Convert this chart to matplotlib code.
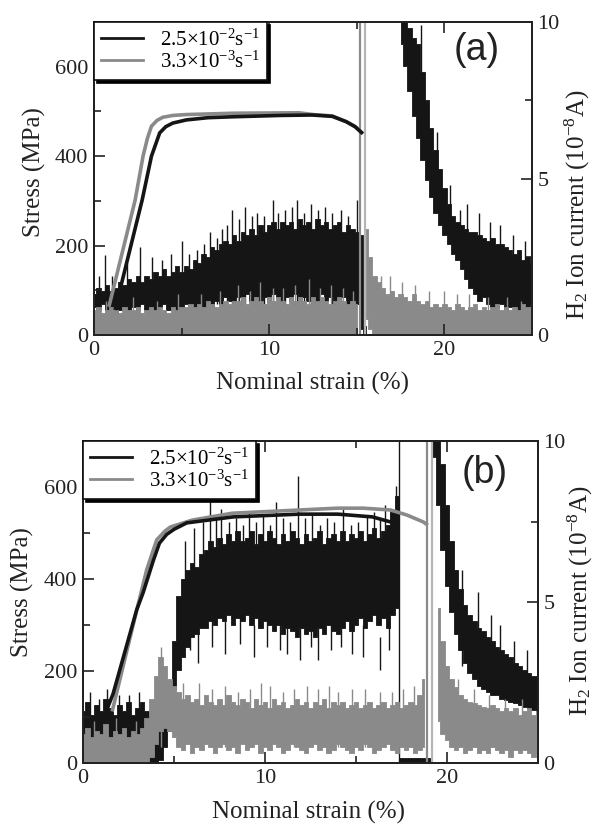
import numpy as np
import matplotlib
matplotlib.use('Agg')
import matplotlib.pyplot as plt
from matplotlib.lines import Line2D
from matplotlib.ticker import MultipleLocator

plt.rcParams['font.family'] = ['Liberation Serif', 'DejaVu Serif']
plt.rcParams['mathtext.fontset'] = 'custom'
plt.rcParams['mathtext.rm'] = 'Liberation Serif'
plt.rcParams['mathtext.it'] = 'Liberation Serif:italic'

# ---------------- data ----------------
legend_labels = [r'2.5$\times$10$^{-2}$s$^{-1}$', r'3.3$\times$10$^{-3}$s$^{-1}$']
stress_ticks = [0, 200, 400, 600]
ion_ticks = [0, 5, 10]
strain_ticks = [0, 10, 20]

# sampled strain positions of the ion-current envelopes (0..25 %, every 0.25 %)
strain_grid = np.linspace(0, 25, 101)
nan = np.nan

# ---- panel (a) stress-strain ----
a_stress_fast_x = [1.2, 2.75, 3.28, 3.75, 4.1, 4.5, 5.27, 6.5, 7.9, 10.6, 12.45, 13.6, 14.4, 14.9, 15.35]
a_stress_fast_y = [56, 302, 400, 452, 466, 474, 481, 486, 488, 491, 492, 489, 477, 466, 450]
a_stress_slow_x = [0.85, 2.35, 2.8, 3.05, 3.28, 3.6, 3.93, 4.5, 5.27, 8.0, 11.7, 12.5, 13.6, 14.4, 14.9, 15.3]
a_stress_slow_y = [63, 302, 400, 440, 467, 480, 487, 491, 493, 496, 497, 493, 490, 477, 466, 452]

# ---- panel (a) ion current envelopes (10^-8 A) ----
a_ion_fast_hi = [1.3, 1.5, 1.4, 1.6, 1.4, 1.5, 1.7, 1.6, 1.8, 1.7, 1.9, 1.7, 1.9, 1.8, 2.0, 1.9, 2.1, 1.9, 2.0, 2.2,
                 2.0, 2.2, 2.1, 2.4, 2.3, 2.6, 2.5, 2.8, 2.7, 2.9, 3.0, 2.9, 3.2, 3.0, 3.3, 3.2, 3.4, 3.2, 3.5, 3.3,
                 3.5, 3.6, 3.4, 3.6, 3.5, 3.6, 3.4, 3.7, 3.5, 3.6, 3.4, 3.7, 3.5, 3.6, 3.4, 3.5, 3.6, 3.3, 3.5, 3.4,
                 3.3, 3.2, 0.3, nan, nan, nan, nan, nan, nan, nan, 11, 11, 9.8, 9.5, 9.3, 8.4, 7.5, 6.6, 5.9, 5.3,
                 4.7, 4.2, 3.8, 3.6, 3.5, 3.4, 3.3, 3.3, 3.2, 3.1, 3.0, 3.1, 2.9, 2.9, 2.8, 2.7, 2.6, 2.7, 2.4, 2.5, 2.3]
a_ion_fast_lo = [0.9, 0.8, 1.0, 0.8, 0.9, 0.7, 0.8, 0.9, 0.8, 0.9, 0.8, 1.0, 0.8, 0.9, 0.8, 0.9, 1.0, 0.8, 0.9, 0.8,
                 0.9, 1.0, 0.9, 0.8, 1.0, 0.9, 1.0, 0.9, 1.1, 1.0, 1.2, 1.1, 1.0, 1.2, 1.1, 1.3, 1.1, 1.2, 1.0, 1.2,
                 1.1, 1.3, 1.2, 1.0, 1.2, 1.1, 1.3, 1.0, 1.2, 1.1, 1.2, 1.0, 1.3, 1.1, 1.2, 1.0, 1.1, 1.2, 1.0, 1.1,
                 1.0, 0.2, 0.0, nan, nan, nan, nan, nan, nan, nan, 9.3, 8.6, 7.8, 7.0, 6.3, 5.6, 4.95, 4.4, 3.9, 3.5,
                 3.2, 2.9, 2.6, 2.4, 2.1, 1.8, 1.5, 1.3, 1.1, 1.2, 1.0, 0.9, 0.9, 1.0, 0.8, 0.9, 0.9, 0.8, 0.8, 0.9, 1.0]
a_ion_slow_hi = [0.8, 0.9, 0.7, 0.8, 0.9, 0.8, 0.7, 0.9, 0.8, 0.8, 0.9, 0.7, 0.8, 0.9, 0.8, 0.9, 0.8, 0.7, 0.9, 0.8,
                 0.9, 0.9, 1.0, 0.9, 1.0, 0.9, 1.1, 1.0, 0.9, 1.0, 1.1, 1.0, 1.1, 1.1, 1.2, 1.0, 1.1, 1.2, 1.1, 1.0,
                 1.2, 1.1, 1.2, 1.1, 1.0, 1.2, 1.1, 1.2, 1.1, 1.0, 1.2, 1.1, 1.2, 1.1, 1.0, 1.1, 1.2, 1.1, 1.0, 1.1,
                 1.0, nan, 3.4, 2.5, 1.9, 1.7, 1.5, 1.3, 1.4, 1.2, 1.3, 1.2, 1.1, 1.3, 1.1, 1.0, 1.1, 0.9, 1.0, 0.9,
                 1.0, 0.9, 0.8, 1.0, 0.9, 0.8, 0.9, 1.0, 0.8, 0.9, 0.8, 0.9, 1.0, 0.8, 0.9, 0.8, 0.9, 0.8, 1.0, 0.9, 0.8]
a_ion_slow_lo = [0.0] * 61 + [nan, 0.5, 0.2] + [0.0] * 37

a_fast_spike_x = [0.3, 0.63, 1.0, 1.9, 2.6, 3.3, 3.9, 4.4, 5.0, 5.4, 5.9, 6.3, 6.6, 7.0, 7.3, 7.6, 7.9, 8.3,
                  8.6, 9.0, 9.3, 9.7, 10.2, 10.5, 10.9, 11.3, 11.6, 12.0, 12.4, 12.8, 13.2, 13.6, 14.1, 14.5,
                  15.0, 18.65, 19.6, 20.3, 20.9, 21.3, 22.0, 22.6, 23.2, 23.9, 24.6]
a_fast_spike_hi = [1.9, 2.56, 1.9, 2.3, 2.8, 2.5, 2.4, 2.6, 3.0, 2.6, 2.7, 2.9, 3.3, 3.1, 3.4, 3.5, 4.0, 3.7,
                   4.1, 3.8, 3.9, 3.8, 4.3, 3.9, 4.0, 4.1, 4.3, 3.9, 4.2, 4.0, 4.1, 3.9, 4.0, 3.8,
                   4.3, 9.9, 6.5, 4.8, 4.0, 4.2, 3.9, 3.6, 3.5, 3.2, 3.0]
a_fast_spike_lo = [1.0] * 35 + [8.0, 5.0, 3.5, 2.5, 2.5, 2.0, 2.0, 2.0, 2.0, 2.0]
a_slow_spike_x = [0.7, 2.2, 3.6, 4.8, 6.1, 7.2, 8.2, 8.9, 9.5, 10.2, 10.8, 11.5, 12.3, 12.9, 13.5, 14.2, 14.8,
                  16.4, 16.9, 17.6, 18.3, 19.1, 20.0, 20.7, 21.4, 22.5, 23.6, 24.4]
a_slow_spike_hi = [1.1, 1.2, 1.1, 1.3, 1.3, 1.4, 1.6, 1.4, 1.7, 1.5, 1.5, 1.6, 1.8, 1.5, 1.6, 1.5, 1.4,
                   1.9, 1.9, 1.7, 1.6, 1.4, 1.4, 1.3, 1.3, 1.2, 1.2, 1.1]
a_full_lines_x = [15.2, 15.45]   # off-scale ion-current bursts at fracture

# ---- panel (b) stress-strain ----
b_stress_fast_x = [0.95, 1.65, 2.95, 3.3, 3.87, 4.2, 4.6, 5.0, 5.7, 8.25, 11.9, 14.0, 15.9, 16.9, 17.3]
b_stress_fast_y = [80, 150, 333, 370, 441, 478, 497, 508, 522, 535, 541, 541, 535, 524, 517]
b_stress_slow_x = [1.6, 3.0, 3.5, 4.05, 4.5, 4.8, 6.0, 8.2, 11.9, 14.0, 15.4, 16.9, 17.8, 18.7, 18.95]
b_stress_slow_y = [112, 340, 420, 485, 504, 513, 528, 543, 550, 554, 554, 550, 539, 524, 517]

# ---- panel (b) ion current envelopes ----
b_ion_fast_hi = [1.6, 1.9, 1.5, 1.8, 1.6, 2.0, 1.7, 1.5, 1.8, 1.6, 1.9, 1.5, 1.7, 1.9, 1.6, 0.9, 0.8, 1.3, 1.7, 2.4,
                 3.8, 5.2, 5.7, 6.0, 6.2, 6.1, 6.5, 6.6, 6.9, 6.7, 7.0, 6.8, 7.1, 6.9, 7.2, 6.9, 7.0, 7.2, 6.8, 7.1,
                 6.9, 7.2, 7.0, 6.8, 7.1, 6.9, 7.2, 7.0, 6.8, 7.1, 6.9, 7.0, 7.2, 6.8, 7.0, 7.1, 6.9, 7.2, 6.9, 7.1,
                 7.0, 7.2, 6.9, 7.1, 7.3, 7.0, 7.2, 7.4, 7.8, 8.3, 0.15, 0.15, 0.15, 0.15, 0.15, 0.15, 0.15, 11, 10.5, 9.3,
                 8.0, 6.9, 6.0, 5.4, 4.9, 4.6, 4.4, 4.2, 4.1, 3.9, 3.8, 3.6, 3.5, 3.4, 3.3, 3.1, 3.0, 2.9, 2.8, 2.7, 2.7]
b_ion_fast_lo = [0.7, 0.6, 0.8, 0.7, 0.6, 0.8, 0.7, 0.6, 0.7, 0.8, 0.6, 0.7, 0.8, 0.6, 0.5, 0.0, 0.0, 0.1, 0.5, 1.0,
                 2.3, 2.9, 3.3, 3.6, 3.9, 4.0, 4.2, 4.2, 4.4, 4.3, 4.5, 4.4, 4.6, 4.3, 4.5, 4.4, 4.6, 4.3, 4.5, 4.2,
                 4.4, 4.3, 4.1, 4.3, 4.0, 4.2, 4.1, 3.9, 4.2, 4.0, 4.1, 3.9, 4.2, 4.0, 4.3, 4.1, 4.0, 4.2, 4.4, 4.1,
                 4.3, 4.5, 4.2, 4.4, 4.6, 4.3, 4.5, 4.2, 4.6, 4.8, 0.0, 0.0, 0.0, 0.0, 0.0, 0.0, 0.0, 9.5, 8.0, 6.6,
                 5.5, 4.7, 4.0, 3.5, 3.1, 2.8, 2.6, 2.4, 2.3, 2.2, 2.1, 2.1, 2.0, 1.95, 1.9, 1.85, 1.8, 1.75, 1.7, 1.65, 1.6]
b_ion_slow_hi = [0.9, 1.1, 0.8, 1.0, 0.9, 1.2, 0.8, 1.0, 0.9, 1.1, 0.8, 1.0, 0.9, 1.1, 1.4, 2.0, 2.7, 3.3, 3.0, 2.6,
                 2.4, 2.2, 2.0, 2.1, 1.9, 2.0, 1.8, 2.1, 1.9, 1.8, 2.0, 1.8, 2.1, 1.9, 1.8, 2.0, 1.9, 1.7, 2.0, 1.8,
                 1.9, 1.7, 2.0, 1.8, 1.9, 1.7, 1.8, 2.0, 1.8, 1.9, 1.7, 1.9, 1.8, 2.0, 1.7, 1.9, 1.8, 1.9, 1.7, 1.8,
                 1.9, 1.7, 1.8, 1.9, 1.7, 1.8, 1.9, 1.7, 1.8, 1.9, 1.7, 1.8, 1.9, 1.8, 2.1, 2.6, nan, nan, 4.8, 3.8,
                 3.0, 2.6, 2.35, 2.1, 2.0, 1.9, 1.85, 1.8, 1.75, 1.7, 1.8, 1.7, 1.6, 1.7, 1.6, 1.7, 1.5, 1.6, 1.7, 1.5, 1.6]
b_ion_slow_lo = [0.0] * 15 + [0.2, 0.6, 1.0, 1.1, 1.0, 0.8] + \
                [0.5, 0.4, 0.6, 0.3, 0.5, 0.4, 0.6, 0.5, 0.3, 0.5, 0.6, 0.4, 0.5, 0.3, 0.6, 0.4, 0.5, 0.6, 0.3,
                 0.5, 0.4, 0.6, 0.5, 0.3, 0.4, 0.6, 0.5, 0.4, 0.3, 0.5, 0.6, 0.4, 0.5, 0.3, 0.4, 0.6, 0.5, 0.4,
                 0.3, 0.5, 0.4, 0.6, 0.5, 0.3, 0.4, 0.5, 0.6, 0.4, 0.3, 0.5, 0.4, 0.5, 0.3, 0.4, 0.5] + \
                [nan, nan, 1.3, 0.9, 0.7] + \
                [0.5, 0.4, 0.5, 0.3, 0.4, 0.5, 0.3, 0.4, 0.3, 0.5, 0.4, 0.3, 0.4, 0.2, 0.4, 0.3, 0.4, 0.3, 0.2, 0.3]

b_fast_spike_x = [0.4, 0.9, 1.3, 2.0, 2.5, 3.1,
                  5.6, 6.1, 6.6, 7.0, 7.3, 7.6, 8.0, 8.4, 8.8, 9.1, 9.5, 9.9, 10.3, 10.6, 11.0, 11.4, 11.8,
                  12.2, 12.6, 13.0, 13.4, 13.8, 14.3, 14.7, 15.1, 15.6, 16.0, 16.3, 16.6, 16.9, 17.2,
                  20.8, 21.7, 22.4, 22.9, 23.7, 24.4]
b_fast_spike_hi = [2.2, 2.0, 2.3, 2.1, 2.1, 2.2,
                   6.9, 7.3, 7.5, 8.9, 7.6, 7.9, 7.5, 7.6, 7.4, 7.8, 7.5, 7.7, 7.4, 8.1, 7.6, 7.5, 8.9,
                   7.6, 7.7, 7.4, 7.6, 7.5, 7.9, 7.4, 7.5, 7.7, 7.8, 7.6, 8.0, 7.9, 8.6,
                   6.0, 5.3, 4.6, 4.3, 3.8, 3.5]
b_fast_spike_lo = [1.0] * 6 + [5.0] * 31 + [3.0, 2.8, 2.5, 2.3, 2.1, 2.0]
b_fast_dip_x = [5.9, 6.3, 7.1, 7.8, 8.6, 9.4, 10.1, 10.8, 11.2, 11.9, 12.5, 12.9, 13.6, 14.2, 14.8, 15.4, 16.3, 16.8]
b_fast_dip_lo = [3.5, 3.1, 3.6, 3.4, 3.7, 3.3, 3.6, 3.5, 3.4, 3.2, 3.6, 3.2, 3.5, 3.6, 3.4, 3.3, 2.9, 3.5]
b_slow_spike_x = [0.6, 1.8, 2.9, 4.3, 5.5, 6.4, 7.1, 7.8, 8.5, 9.2, 9.8, 10.3, 11.0, 11.6, 12.3, 12.9, 13.5,
                  14.0, 14.8, 15.5, 16.3, 17.0, 17.6, 18.2, 20.6, 21.5, 22.3, 23.2, 24.1]
b_slow_spike_hi = [1.3, 1.4, 1.3, 3.6, 2.5, 2.5, 2.3, 2.4, 2.2, 2.3, 2.5, 2.4, 2.2, 2.3, 2.4, 2.3, 2.4,
                   2.2, 2.3, 2.3, 2.2, 2.2, 2.3, 2.4, 2.6, 2.3, 2.1, 2.0, 2.0]
b_full_lines_fast_x = [17.35]
b_full_lines_slow_x = [18.9, 19.2]

# ---------------- styling ----------------
BLACK = '#151515'
GRAY = '#8a8a8a'
LIGHTGRAY = '#b5b5b5'
W, H = 594, 827

fig = plt.figure(figsize=(W / 100, H / 100), dpi=100)


def make_panel(rect, stress_fast, stress_slow, ion_fast, ion_slow, spikes_fast, dips_fast, spikes_slow,
               full_fast, full_slow, tag, tag_xy, ylab_left_xy, ylab_right_xy, xlab_xy):
    ax = fig.add_axes(rect)
    ax2 = ax.twinx()
    ax.set_zorder(ax2.get_zorder() + 1)
    ax.patch.set_visible(False)

    ax.set_xlim(0, 25)
    ax.set_ylim(0, 700)
    ax2.set_ylim(0, 10)

    # ion current (right axis)
    ax2.fill_between(strain_grid, ion_fast[1], ion_fast[0], step='mid', color=BLACK, lw=0.6, zorder=2)
    sx, s0, s1 = spikes_fast
    ax2.vlines(sx, s0, s1, color=BLACK, lw=1.0, zorder=2)
    if dips_fast is not None:
        dx, dlo = dips_fast
        ax2.vlines(dx, dlo, [v + 1.0 for v in dlo], color=BLACK, lw=1.0, zorder=2)
    for xv in full_fast:
        ax2.vlines(xv, 0, 10, color=BLACK, lw=1.0, zorder=2)
    ax2.fill_between(strain_grid, ion_slow[1], ion_slow[0], step='mid', color=GRAY, lw=0.6, zorder=3)
    gx, g1 = spikes_slow
    ax2.vlines(gx, [0.5] * len(gx), g1, color=GRAY, lw=1.0, zorder=3)
    for i, xv in enumerate(full_slow):
        ax2.vlines(xv, 0, 10, color=GRAY if i == 0 else LIGHTGRAY, lw=1.6, zorder=3)

    # stress (left axis, on top)
    ax.plot(stress_fast[0], stress_fast[1], color=BLACK, lw=2.6, solid_capstyle='butt', zorder=5)
    ax.plot(stress_slow[0], stress_slow[1], color=GRAY, lw=2.6, solid_capstyle='butt', zorder=4)

    # ticks
    ax.set_xticks(strain_ticks)
    ax.xaxis.set_minor_locator(MultipleLocator(5))
    ax.set_yticks(stress_ticks)
    ax.yaxis.set_minor_locator(MultipleLocator(100))
    ax2.set_yticks(ion_ticks)
    ax2.yaxis.set_minor_locator(MultipleLocator(2.5))
    ax.tick_params(axis='both', which='major', direction='in', length=8, width=1.2, top=True,
                   labelsize=16, pad=4, colors='#222222')
    ax.tick_params(axis='both', which='minor', direction='in', length=5, width=1.2, top=True, colors='#222222')
    ax2.tick_params(axis='y', which='major', direction='in', length=8, width=1.2, labelsize=16, pad=4,
                    colors='#222222')
    ax2.tick_params(axis='y', which='minor', direction='in', length=5, width=1.2, colors='#222222')
    for a in (ax, ax2):
        for sp in a.spines.values():
            sp.set_linewidth(1.4)
            sp.set_color('#222222')

    # labels (figure pixel positions)
    fig.text(ylab_left_xy[0] / W, 1 - ylab_left_xy[1] / H, 'Stress (MPa)', rotation=90,
             ha='center', va='center', fontsize=18, color='#222222')
    fig.text(ylab_right_xy[0] / W, 1 - ylab_right_xy[1] / H, r'H$_2$ Ion current (10$^{-8}$A)',
             rotation=90, ha='center', va='center', fontsize=18, color='#222222')
    fig.text(xlab_xy[0] / W, 1 - xlab_xy[1] / H, 'Nominal strain (%)', ha='center', va='center',
             fontsize=18, color='#222222')
    fig.text(tag_xy[0] / W, 1 - tag_xy[1] / H, tag, ha='center', va='center', fontsize=27,
             family=['Liberation Sans', 'DejaVu Sans'], color='#222222')

    handles = [Line2D([], [], color=BLACK, lw=2), Line2D([], [], color=GRAY, lw=2)]
    leg = ax.legend(handles, legend_labels, loc='upper left', bbox_to_anchor=(0, 1), borderaxespad=0,
                    frameon=True, fancybox=False, shadow={'color': 'black', 'alpha': 1.0}, fontsize=15,
                    handlelength=2.0, handletextpad=0.8, labelspacing=0.05, borderpad=0.35)
    leg.get_frame().set_edgecolor('#111111')
    leg.get_frame().set_linewidth(1.2)
    leg.get_frame().set_alpha(1.0)
    return ax, ax2


make_panel([94 / W, 1 - 335 / H, 438 / W, 313 / H],
           (a_stress_fast_x, a_stress_fast_y), (a_stress_slow_x, a_stress_slow_y),
           (a_ion_fast_hi, a_ion_fast_lo), (a_ion_slow_hi, a_ion_slow_lo),
           (a_fast_spike_x, a_fast_spike_lo, a_fast_spike_hi), None,
           (a_slow_spike_x, a_slow_spike_hi),
           [], a_full_lines_x, '(a)', (477, 50), (34, 172), (577, 205), (313, 383))

make_panel([83 / W, 1 - 763 / H, 455 / W, 322 / H],
           (b_stress_fast_x, b_stress_fast_y), (b_stress_slow_x, b_stress_slow_y),
           (b_ion_fast_hi, b_ion_fast_lo), (b_ion_slow_hi, b_ion_slow_lo),
           (b_fast_spike_x, b_fast_spike_lo, b_fast_spike_hi), (b_fast_dip_x, b_fast_dip_lo),
           (b_slow_spike_x, b_slow_spike_hi),
           b_full_lines_fast_x, b_full_lines_slow_x, '(b)', (485, 473), (22, 592), (580, 601), (309, 812))

fig.savefig('out.png', dpi=100)
